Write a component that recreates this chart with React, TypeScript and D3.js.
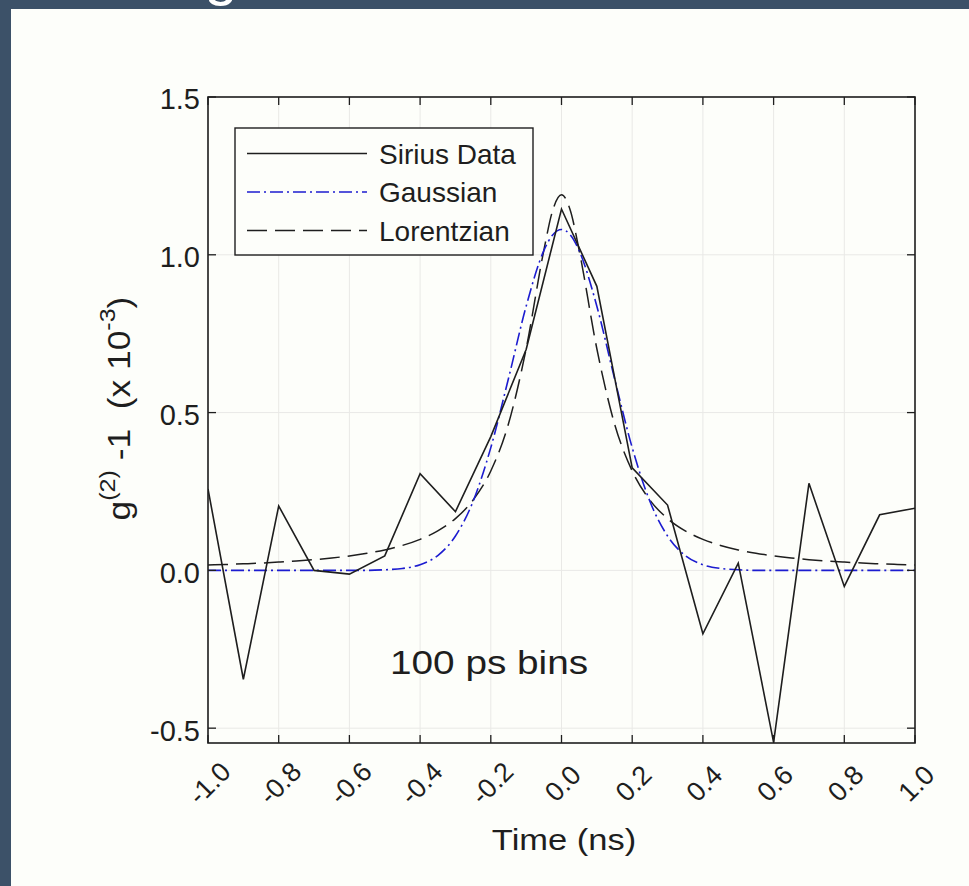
import React from "react";
import * as d3 from "d3";

// ---- data ----
const binTime = [-1.0, -0.9, -0.8, -0.7, -0.6, -0.5, -0.4, -0.3, -0.2, -0.1, 0.0, 0.1, 0.2, 0.3, 0.4, 0.5, 0.6, 0.7, 0.8, 0.9, 1.0];
const siriusData = [0.258, -0.345, 0.204, 0.0, -0.012, 0.046, 0.306, 0.186, 0.424, 0.70, 1.145, 0.90, 0.325, 0.207, -0.201, 0.023, -0.545, 0.276, -0.051, 0.176, 0.197];

const fitTime = [-1.0, -0.95, -0.9, -0.85, -0.8, -0.75, -0.7, -0.65, -0.6, -0.55, -0.5, -0.45, -0.4, -0.35, -0.3, -0.25, -0.2, -0.15, -0.1, -0.05, -0.025, 0.0, 0.025, 0.05, 0.1, 0.15, 0.2, 0.25, 0.3, 0.35, 0.4, 0.45, 0.5, 0.55, 0.6, 0.65, 0.7, 0.75, 0.8, 0.85, 0.9, 0.95, 1.0];
const gaussianFit = [0, 0, 0, 0, 0, 0, 0, 0, 0, 0.0, 0.002, 0.006, 0.018, 0.047, 0.109, 0.219, 0.389, 0.608, 0.837, 1.013, 1.063, 1.08, 1.063, 1.013, 0.837, 0.608, 0.389, 0.219, 0.109, 0.047, 0.018, 0.006, 0.002, 0.0, 0, 0, 0, 0, 0, 0, 0, 0, 0];
const lorentzianFit = [0.0169, 0.0187, 0.0208, 0.0232, 0.0262, 0.0297, 0.034, 0.0392, 0.0458, 0.0541, 0.0648, 0.079, 0.0983, 0.1252, 0.1641, 0.2228, 0.315, 0.4644, 0.7023, 1.014, 1.1405, 1.19, 1.1405, 1.014, 0.7023, 0.4644, 0.315, 0.2228, 0.1641, 0.1252, 0.0983, 0.079, 0.0648, 0.0541, 0.0458, 0.0392, 0.034, 0.0297, 0.0262, 0.0232, 0.0208, 0.0187, 0.0169];

const xTicks = [-1.0, -0.8, -0.6, -0.4, -0.2, 0.0, 0.2, 0.4, 0.6, 0.8, 1.0];
const xTickLabels = ["-1.0", "-0.8", "-0.6", "-0.4", "-0.2", "0.0", "0.2", "0.4", "0.6", "0.8", "1.0"];
const yTicks = [-0.5, 0.0, 0.5, 1.0, 1.5];
const yTickLabels = ["-0.5", "0.0", "0.5", "1.0", "1.5"];

const legendLabels = ["Sirius Data", "Gaussian", "Lorentzian"];

// ---- layout ----
const W = 969;
const H = 886;
const L = 208, R = 915, T = 97, B = 743;
const FONT = "'Liberation Sans', Arial, Helvetica, sans-serif";
const INK = "#1e1e1e";
const BLUE = "#1c1cd0";

export default function App() {
  const x = d3.scaleLinear().domain([-1, 1]).range([L, R]);
  const y = d3.scaleLinear().domain([-0.547, 1.5]).range([B, T]);

  const dataLine = d3
    .line<number>()
    .x((_, i) => x(binTime[i]))
    .y((d) => y(d));
  const fitLine = d3
    .line<number>()
    .x((_, i) => x(fitTime[i]))
    .y((d) => y(d))
    .curve(d3.curveMonotoneX);

  const tickLen = 8;
  const styles = [
    { stroke: INK, dash: undefined as string | undefined },
    { stroke: BLUE, dash: "13,4,2,4" },
    { stroke: INK, dash: "20,8" },
  ];
  const legendRows = [153.5, 192, 230.5];

  return (
    <svg
      width={W}
      height={H}
      viewBox={`0 0 ${W} ${H}`}
      style={{ position: "absolute", left: 0, top: 0, display: "block" }}
      fontFamily={FONT}
    >
      <defs>
        <clipPath id="plotClip">
          <rect x={L} y={T} width={R - L} height={B - T} />
        </clipPath>
      </defs>
      <rect x={0} y={0} width={W} height={H} fill="#3c5168" />
      <text x={221} y={-6} textAnchor="middle" fontSize={60} fill="#ffffff">
        g
      </text>
      <rect x={11} y={9} width={W - 11} height={H - 9} fill="#fdfefa" />

      {/* grid */}
      {xTicks.map((v, i) => (
        <line key={"gx" + i} x1={x(v)} x2={x(v)} y1={T} y2={B} stroke="#e9e9e6" strokeWidth={1} />
      ))}
      {yTicks.map((v, i) => (
        <line key={"gy" + i} x1={L} x2={R} y1={y(v)} y2={y(v)} stroke="#e9e9e6" strokeWidth={1} />
      ))}

      {/* series */}
      <g clipPath="url(#plotClip)" fill="none">
        <path d={fitLine(lorentzianFit) || ""} stroke={INK} strokeWidth={1.5} strokeDasharray="20,8" />
        <path d={fitLine(gaussianFit) || ""} stroke={BLUE} strokeWidth={1.6} strokeDasharray="13,4,2,4" />
        <path d={dataLine(siriusData) || ""} stroke={INK} strokeWidth={1.6} strokeLinejoin="miter" />
      </g>

      {/* ticks */}
      {xTicks.map((v, i) => (
        <g key={"tx" + i}>
          <line x1={x(v)} x2={x(v)} y1={B} y2={B - tickLen} stroke={INK} strokeWidth={1.3} />
          <line x1={x(v)} x2={x(v)} y1={T} y2={T + tickLen} stroke={INK} strokeWidth={1.3} />
        </g>
      ))}
      {yTicks.map((v, i) => (
        <g key={"ty" + i}>
          <line x1={L} x2={L + tickLen} y1={y(v)} y2={y(v)} stroke={INK} strokeWidth={1.3} />
          <line x1={R} x2={R - tickLen} y1={y(v)} y2={y(v)} stroke={INK} strokeWidth={1.3} />
        </g>
      ))}

      {/* frame */}
      <rect x={L} y={T} width={R - L} height={B - T} fill="none" stroke={INK} strokeWidth={1.6} />

      {/* tick labels */}
      {yTicks.map((v, i) => (
        <text key={"yl" + i} x={200} y={y(v) + 2} dy="0.36em" textAnchor="end" fontSize={29} fill={INK}>
          {yTickLabels[i]}
        </text>
      ))}
      {xTicks.map((v, i) => (
        <text
          key={"xl" + i}
          transform={`translate(${x(v) + 1},783) rotate(-45)`}
          textAnchor="middle"
          dy="0.36em"
          fontSize={27}
          fill={INK}
        >
          {xTickLabels[i]}
        </text>
      ))}

      {/* axis titles */}
      <text transform="translate(564,850) scale(1.15,1)" textAnchor="middle" fontSize={30} fill={INK}>
        Time (ns)
      </text>
      <g transform="translate(130,408.5) rotate(-90) scale(1.14,1)">
        <text textAnchor="middle" fontSize={31} fill={INK} style={{ whiteSpace: "pre" }}>
          g
          <tspan fontSize={22} dy={-15}>(2)</tspan>
          <tspan dy={15}>{" -1  (x 10"}</tspan>
          <tspan fontSize={22} dy={-15}>-3</tspan>
          <tspan dy={15}>)</tspan>
        </text>
      </g>

      {/* annotation */}
      <text transform="translate(390,674) scale(1.14,1)" fontSize={34} fill={INK}>
        100 ps bins
      </text>

      {/* legend */}
      <rect x={235} y={128} width={298} height={127} fill="#fdfefa" stroke={INK} strokeWidth={1.4} />
      {legendLabels.map((lab, i) => (
        <g key={"lg" + i}>
          <line
            x1={247}
            x2={367}
            y1={legendRows[i]}
            y2={legendRows[i]}
            stroke={styles[i].stroke}
            strokeWidth={1.6}
            strokeDasharray={styles[i].dash}
          />
          <text x={379} y={legendRows[i]} dy="0.36em" fontSize={28} fill={INK}>
            {lab}
          </text>
        </g>
      ))}
    </svg>
  );
}
